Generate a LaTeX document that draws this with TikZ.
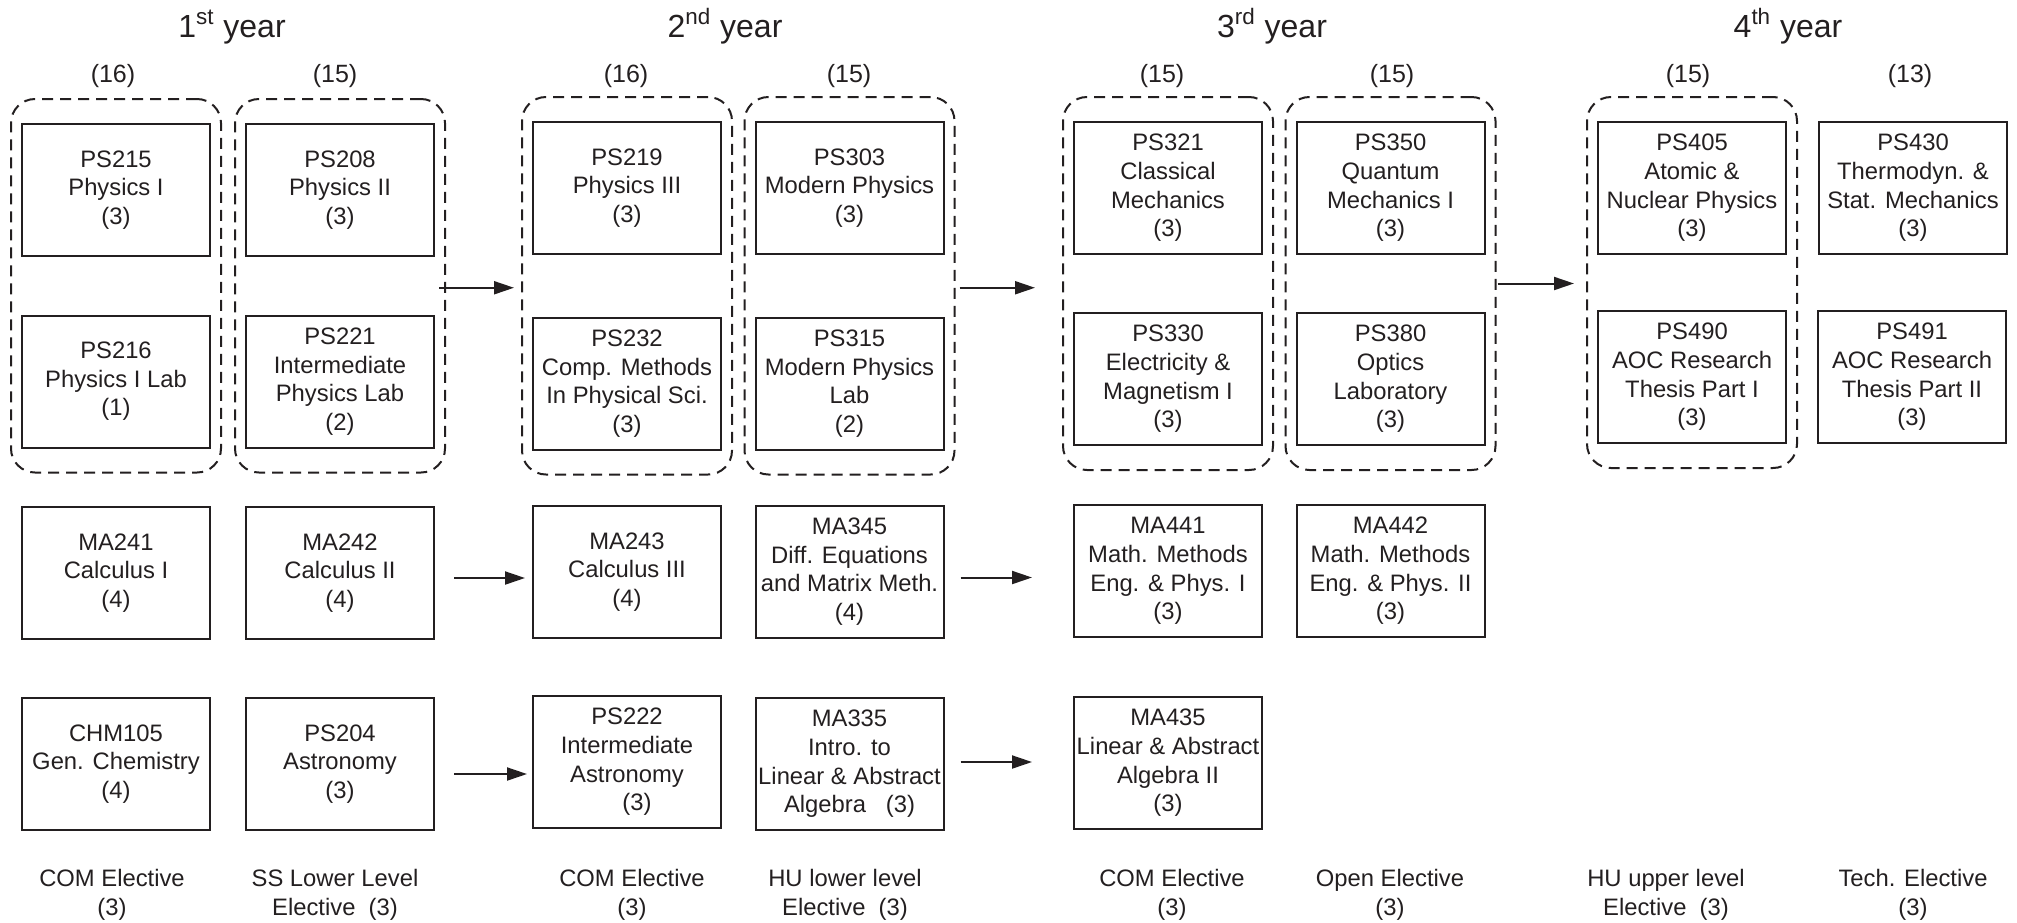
\documentclass[tikz,border=0pt]{standalone}
\usepackage{fontspec}
\setmainfont{Liberation Sans}
\usetikzlibrary{arrows.meta,fit}
\definecolor{ink}{HTML}{231F20}

\begin{document}
\begin{tikzpicture}[x=0.5pt,y=-0.5pt,
    course/.style={draw=ink,line width=1pt,minimum width=94pt,minimum height=66pt,inner sep=0pt,align=center,text=ink,font=\fontsize{11.9}{14.3}\selectfont},
    term/.style={draw=ink,line width=1pt,dash pattern=on 5.5pt off 3.5pt,rounded corners=12pt,inner xsep=5pt,inner ysep=12pt},
    flow/.style={draw=ink,line width=1pt,-{Triangle[length=10pt,width=6.5pt]}},
    yearlabel/.style={anchor=base,text=ink,font=\fontsize{16}{19}\selectfont},
    credits/.style={anchor=base,text=ink,font=\fontsize{12.5}{15}\selectfont},
    elective/.style={align=center,text=ink,font=\fontsize{11.9}{14.3}\selectfont}]

    % Fix the page to the proportions of the chart
    \useasboundingbox (0,0) rectangle (2017,922);

    % Year headings and the credits of each semester
    \node[yearlabel] (y1) at (232,37) {1\textsuperscript{st} year};
    \node[yearlabel] (y2) at (725,37) {2\textsuperscript{nd} year};
    \node[yearlabel] (y3) at (1272,37) {3\textsuperscript{rd} year};
    \node[yearlabel] (y4) at (1788,37) {4\textsuperscript{th} year};

    \node[credits] (c1) at (113,82) {(16)};
    \node[credits] (c2) at (335,82) {(15)};
    \node[credits] (c3) at (626,82) {(16)};
    \node[credits] (c4) at (849,82) {(15)};
    \node[credits] (c5) at (1162,82) {(15)};
    \node[credits] (c6) at (1392,82) {(15)};
    \node[credits] (c7) at (1688,82) {(15)};
    \node[credits] (c8) at (1910,82) {(13)};

    % First year
    \node[course] (ps215) at (116,190) {PS215\\Physics I\\(3)};
    \node[course] (ps216) at (116,381.5) {PS216\\Physics I Lab\\(1)};
    \node[course] (ps208) at (340,190) {PS208\\Physics II\\(3)};
    \node[course] (ps221) at (340,381.5) {PS221\\Intermediate\\Physics Lab\\(2)};
    \node[course] (ma241) at (116,573) {MA241\\Calculus I\\(4)};
    \node[course] (ma242) at (340,573) {MA242\\Calculus II\\(4)};
    \node[course] (chm105) at (116,764) {CHM105\\Gen. Chemistry\\(4)};
    \node[course] (ps204) at (340,764) {PS204\\Astronomy\\(3)};

    % Second year
    \node[course] (ps219) at (627,188) {PS219\\Physics III\\(3)};
    \node[course] (ps232) at (627,383.5) {PS232\\Comp. Methods\\In Physical Sci.\\(3)};
    \node[course] (ps303) at (849.5,188) {PS303\\Modern Physics\\(3)};
    \node[course] (ps315) at (849.5,383.5) {PS315\\Modern Physics\\Lab\\(2)};
    \node[course] (ma243) at (627,572) {MA243\\Calculus III\\(4)};
    \node[course] (ma345) at (849.5,571.5) {MA345\\Diff. Equations\\and Matrix Meth.\\(4)};
    \node[course] (ps222) at (627,762) {PS222\\Intermediate\\Astronomy\\~~~(3)};
    \node[course] (ma335) at (849.5,764) {MA335\\Intro. to\\Linear \& Abstract\\Algebra~~~(3)};

    % Third year
    \node[course] (ps321) at (1168,188) {PS321\\Classical\\Mechanics\\(3)};
    \node[course] (ps330) at (1168,379) {PS330\\Electricity \&\\Magnetism I\\(3)};
    \node[course] (ps350) at (1390.5,188) {PS350\\Quantum\\Mechanics I\\(3)};
    \node[course] (ps380) at (1390.5,379) {PS380\\Optics\\Laboratory\\(3)};
    \node[course] (ma441) at (1168,571) {MA441\\Math. Methods\\Eng. \& Phys. I\\(3)};
    \node[course] (ma442) at (1390.5,571) {MA442\\Math. Methods\\Eng. \& Phys. II\\(3)};
    \node[course] (ma435) at (1168,763) {MA435\\Linear \& Abstract\\Algebra II\\(3)};

    % Fourth year
    \node[course] (ps405) at (1692,188) {PS405\\Atomic \&\\Nuclear Physics\\(3)};
    \node[course] (ps490) at (1692,377) {PS490\\AOC Research\\Thesis Part I\\(3)};
    \node[course] (ps430) at (1913,188) {PS430\\Thermodyn. \&\\Stat. Mechanics\\(3)};
    \node[course] (ps491) at (1912,377) {PS491\\AOC Research\\Thesis Part II\\(3)};

    % Dashed frames round the physics courses of a semester
    \node[term, fit=(ps215)(ps216)] (sem1) {};
    \node[term, fit=(ps208)(ps221)] (sem2) {};
    \node[term, fit=(ps219)(ps232)] (sem3) {};
    \node[term, fit=(ps303)(ps315)] (sem4) {};
    \node[term, fit=(ps321)(ps330)] (sem5) {};
    \node[term, fit=(ps350)(ps380)] (sem6) {};
    \node[term, fit=(ps405)(ps490)] (sem7) {};

    % Electives under each semester
    \node[elective] (e1) at (112,895) {COM Elective\\(3)};
    \node[elective] (e2) at (335,895) {SS Lower Level\\Elective~~(3)};
    \node[elective] (e3) at (632,895) {COM Elective\\(3)};
    \node[elective] (e4) at (845,895) {HU lower level\\Elective~~(3)};
    \node[elective] (e5) at (1172,895) {COM Elective\\(3)};
    \node[elective] (e6) at (1390,895) {Open Elective\\(3)};
    \node[elective] (e7) at (1666,895) {HU upper level\\Elective~~(3)};
    \node[elective] (e8) at (1913,895) {Tech. Elective\\(3)};

    % Start points of the arrows
    \coordinate (s1) at ([xshift=-3.5pt,yshift=-1pt]sem2.east);
    \coordinate (s2) at ([xshift=2pt,yshift=-1pt]sem4.east);
    \coordinate (s3) at ([xshift=0.5pt]sem6.east);
    \coordinate (s4) at ([xshift=9.5pt,yshift=-2.5pt]ma242.east);
    \coordinate (s5) at ([xshift=8pt,yshift=-3pt]ma345.east);
    \coordinate (s6) at ([xshift=9.5pt,yshift=-5pt]ps204.east);
    \coordinate (s7) at ([xshift=8pt,yshift=1pt]ma335.east);

    % Arrows from year to year
    \draw[flow] (s1) -- ([xshift=-3.5pt]sem3.west |- s1);
    \draw[flow] (s2) -- ([xshift=-13.5pt]sem5.west |- s2);
    \draw[flow] (s3) -- ([xshift=-6pt]sem7.west |- s3);
    \draw[flow] (s4) -- ([xshift=-3.5pt]ma243.west |- s4);
    \draw[flow] (s5) -- ([xshift=-20.5pt]ma441.west |- s5);
    \draw[flow] (s6) -- ([xshift=-2.5pt]ps222.west |- s6);
    \draw[flow] (s7) -- ([xshift=-20.5pt]ma435.west |- s7);

\end{tikzpicture}
\end{document}
